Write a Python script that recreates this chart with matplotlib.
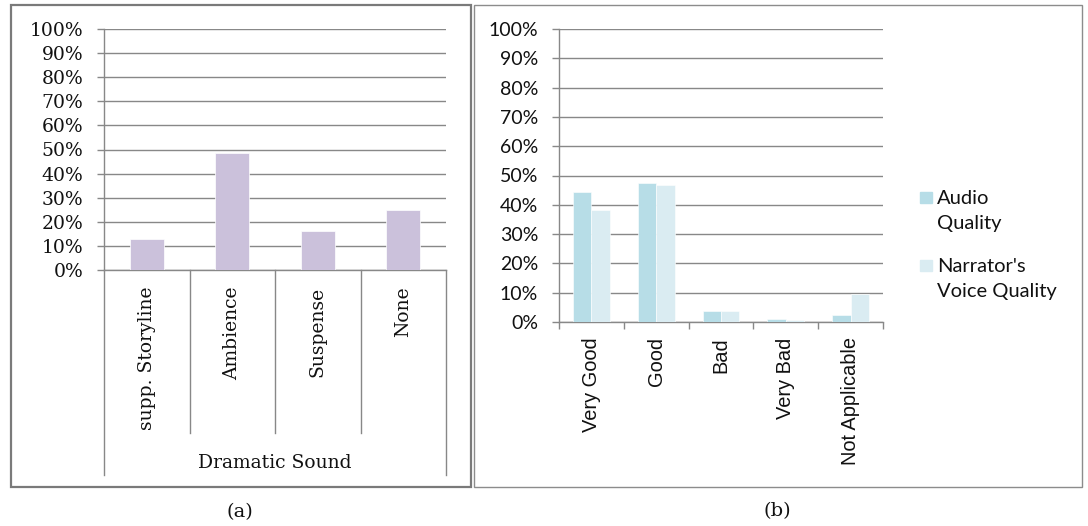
import matplotlib
matplotlib.use('Agg')
import matplotlib.pyplot as plt
from matplotlib.patches import Rectangle
from matplotlib.ticker import PercentFormatter, FixedLocator
import numpy as np

# ---------------------------------------------------------------------------- #

# (a) dramatic sound
sound_categories = ['supp. Storyline', 'Ambience', 'Suspense', 'None']
sound_share = [0.128, 0.486, 0.160, 0.250]
sound_group = 'Dramatic Sound'

# (b) audio / narrator quality
quality_categories = ['Very Good', 'Good', 'Bad', 'Very Bad', 'Not Applicable']
audio_quality = [0.443, 0.476, 0.039, 0.009, 0.024]
narrator_quality = [0.383, 0.469, 0.039, 0.008, 0.094]
series_labels = ['Audio\nQuality', "Narrator's\nVoice Quality"]

yticks = np.linspace(0, 1, 11)

lavender = '#CBC1DB'
audio_color = '#B7DDE7'
narrator_color = '#DAECF2'
line_grey = '#888888'

W, H = 1088, 526

def fx(px):
    return px / W

def fy(py):
    return 1 - py / H

fig = plt.figure(figsize=(W / 100, H / 100), dpi=100)
fig.patch.set_facecolor('white')

# panel frames
fig.add_artist(Rectangle((fx(11), fy(487)), fx(471) - fx(11), fy(5) - fy(487),
                         transform=fig.transFigure, fill=False,
                         edgecolor='#7a7a7a', linewidth=1.6))
fig.add_artist(Rectangle((fx(474), fy(487)), fx(1082) - fx(474), fy(5) - fy(487),
                         transform=fig.transFigure, fill=False,
                         edgecolor='#8c8c8c', linewidth=1.0))

# ---------------------------------------------------------------------------- #
# (a)

serif = 'DejaVu Serif'
ax1 = fig.add_axes([fx(104), fy(270), fx(446) - fx(104), fy(29) - fy(270)])
x1 = np.arange(len(sound_categories))
ax1.bar(x1, sound_share, width=0.4, color=lavender, edgecolor='white',
        linewidth=0.5, zorder=3)
ax1.set_xlim(-0.5, len(sound_categories) - 0.5)
ax1.set_ylim(0, 1)
ax1.set_yticks(yticks)
ax1.yaxis.set_major_formatter(PercentFormatter(1.0, decimals=0))
ax1.grid(axis='y', color=line_grey, linewidth=1.0, zorder=0)
for s in ['top', 'right']:
    ax1.spines[s].set_visible(False)
for s in ['left', 'bottom']:
    ax1.spines[s].set_color(line_grey)
    ax1.spines[s].set_linewidth(1.0)
ax1.tick_params(axis='y', length=5, width=1.0, color=line_grey, pad=10,
                labelsize=13.5, labelfontfamily=serif, labelcolor='#111111')
ax1.xaxis.set_major_locator(FixedLocator([]))
ax1.set_xticks(x1, minor=False)
ax1.set_xticklabels(sound_categories, rotation=90, fontsize=13.5,
                    family=serif, color='#111111')
ax1.tick_params(axis='x', length=0, pad=12)

# category separators of the two-level axis
trans = ax1.get_xaxis_transform()
bounds = np.arange(len(sound_categories) + 1) - 0.5
for b in bounds:
    depth = 205 / 241 if b in (bounds[0], bounds[-1]) else 163 / 241
    ax1.plot([b, b], [0, -depth], transform=trans, color=line_grey,
             linewidth=1.0, clip_on=False)
ax1.text(np.mean(bounds), -193 / 241, sound_group, transform=trans,
         ha='center', va='center', fontsize=13.5, family=serif, color='#111111')

# ---------------------------------------------------------------------------- #
# (b)

ax2 = fig.add_axes([fx(559), fy(322), fx(883) - fx(559), fy(29) - fy(322)])
x2 = np.arange(len(quality_categories))
bw = 0.285
ax2.bar(x2 - bw / 2, audio_quality, width=bw, color=audio_color,
        edgecolor='white', linewidth=0.4, zorder=3)
ax2.bar(x2 + bw / 2, narrator_quality, width=bw, color=narrator_color,
        edgecolor='white', linewidth=0.4, zorder=3)
ax2.set_xlim(-0.5, len(quality_categories) - 0.5)
ax2.set_ylim(0, 1)
ax2.set_yticks(yticks)
ax2.yaxis.set_major_formatter(PercentFormatter(1.0, decimals=0))
ax2.grid(axis='y', color=line_grey, linewidth=1.0, zorder=0)
for s in ['top', 'right']:
    ax2.spines[s].set_visible(False)
for s in ['left', 'bottom']:
    ax2.spines[s].set_color(line_grey)
    ax2.spines[s].set_linewidth(1.0)
ax2.tick_params(axis='y', length=5, width=1.0, color=line_grey, pad=10,
                labelsize=14, labelfontfamily='Lato', labelcolor='#111111')
# tick marks between categories, labels at the centres
ax2.set_xticks(np.arange(len(quality_categories) + 1) - 0.5)
ax2.set_xticklabels([])
ax2.tick_params(axis='x', which='major', length=5, width=1.0, color=line_grey)
ax2.set_xticks(x2, minor=True)
ax2.set_xticklabels(quality_categories, minor=True, rotation=90, fontsize=14.4,
                    family='Liberation Sans', color='#111111')
ax2.tick_params(axis='x', which='minor', length=0, pad=11)

# legend
for (top, color, label) in [(192, audio_color, series_labels[0]),
                            (260, narrator_color, series_labels[1])]:
    fig.add_artist(Rectangle((fx(920), fy(top + 11)), fx(12), 11 / H,
                             transform=fig.transFigure, color=color))
    fig.text(fx(937), fy(top - 2), label, ha='left', va='top',
             fontsize=14.5, family='Lato', color='#111111', linespacing=1.55)

# ---------------------------------------------------------------------------- #

fig.text(fx(240), fy(512), '(a)', ha='center', va='center', fontsize=14,
         family=serif, color='#111111')
fig.text(fx(777), fy(511), '(b)', ha='center', va='center', fontsize=14,
         family=serif, color='#111111')

fig.savefig('out.png', dpi=100, facecolor='white')
